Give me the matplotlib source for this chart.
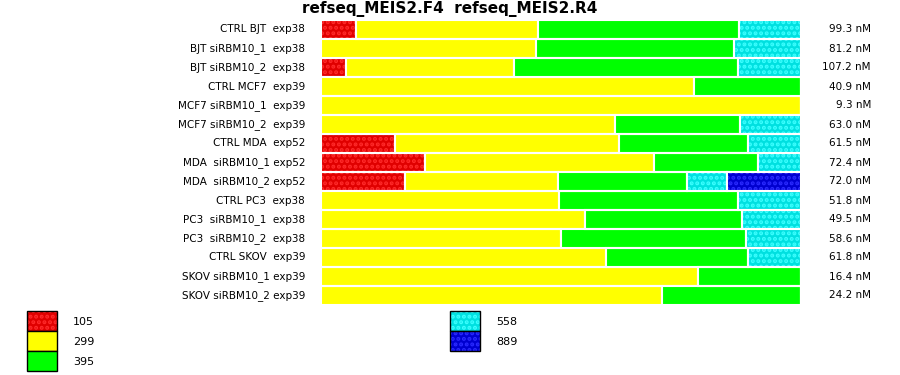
import matplotlib
matplotlib.use("Agg")
import matplotlib.pyplot as plt
from matplotlib.patches import Rectangle
import numpy as np

plt.rcParams['hatch.linewidth'] = 2.0

samples = ["CTRL BJT  exp38", "BJT siRBM10_1  exp38", "BJT siRBM10_2  exp38",
           "CTRL MCF7  exp39", "MCF7 siRBM10_1  exp39", "MCF7 siRBM10_2  exp39",
           "CTRL MDA  exp52", "MDA  siRBM10_1 exp52", "MDA  siRBM10_2 exp52",
           "CTRL PC3  exp38", "PC3  siRBM10_1  exp38", "PC3  siRBM10_2  exp38",
           "CTRL SKOV  exp39", "SKOV siRBM10_1 exp39", "SKOV siRBM10_2 exp39"]
concentrations = ["99.3 nM", "81.2 nM", "107.2 nM", "40.9 nM", "9.3 nM", "63.0 nM",
                  "61.5 nM", "72.4 nM", "72.0 nM", "51.8 nM", "49.5 nM", "58.6 nM",
                  "61.8 nM", "16.4 nM", "24.2 nM"]
peak_labels = ["105", "299", "395", "558", "889"]
# percentage of each peak per sample
p105 = [7.3, 0, 5.2, 0, 0, 0, 15.5, 21.6, 17.4, 0, 0, 0, 0, 0, 0]
p299 = [37.9, 44.8, 35.0, 77.8, 100, 61.3, 46.6, 47.8, 32.0, 49.5, 54.9, 49.9, 59.3, 78.6, 71.1]
p395 = [41.9, 41.2, 46.6, 22.2, 0, 25.9, 26.8, 21.6, 26.8, 37.3, 32.9, 38.7, 29.6, 21.4, 28.9]
p558 = [12.9, 14.0, 13.2, 0, 0, 12.8, 11.1, 9.0, 8.3, 13.2, 12.2, 11.4, 11.1, 0, 0]
p889 = [0, 0, 0, 0, 0, 0, 0, 0, 15.5, 0, 0, 0, 0, 0, 0]

series = [p105, p299, p395, p558, p889]
faces = ["#e00000", "#ffff00", "#00ff00", "#00e0e0", "#0000d0"]
hatchc = ["#ff2a2a", "#ffff00", "#00ff00", "#3cffff", "#2a2aff"]
hatches = ["...", None, None, "...", "..."]

fig = plt.figure(figsize=(9, 3.75), dpi=100)
ax = fig.add_axes([321/900, 1-305/375, 480/900, 285/375])
y = np.arange(len(samples))
left = np.zeros(len(samples))
for vals, fc, hc, h in zip(series, faces, hatchc, hatches):
    v = np.array(vals, dtype=float)
    ax.barh(y, v, left=left, height=1.0, color=fc, edgecolor=hc,
            hatch=h, linewidth=0)
    ax.barh(y, v, left=left, height=1.0, facecolor='none', edgecolor='white',
            linewidth=1.5)
    left += v
ax.set_xlim(0, 100)
ax.set_ylim(len(samples) - 0.5, -0.5)
ax.axis('off')

for i, (s, c) in enumerate(zip(samples, concentrations)):
    ax.text(-3.33, i, s, ha='right', va='center', fontsize=7.5)
    ax.text(114.58, i, c, ha='right', va='center', fontsize=7.5)

fig.text(0.5, 1-13/375, "refseq_MEIS2.F4  refseq_MEIS2.R4", ha='center',
         va='baseline', fontsize=11, fontweight='bold')

# legend
positions = [(27, 311), (27, 331), (27, 351), (450, 311), (450, 331)]
for (px, py), lab, fc, hc, h in zip(positions, peak_labels, faces, hatchc, hatches):
    r = Rectangle((px/900, 1-(py+20)/375), 30/900, 20/375, transform=fig.transFigure,
                  facecolor=fc, edgecolor=hc, hatch=h, linewidth=0)
    fig.add_artist(r)
    r2 = Rectangle((px/900, 1-(py+20)/375), 30/900, 20/375, transform=fig.transFigure,
                   facecolor='none', edgecolor='black', linewidth=1)
    fig.add_artist(r2)
    fig.text((px+46)/900, 1-(py+11)/375, lab, ha='left', va='center', fontsize=8)

fig.savefig("out.png", dpi=100)
